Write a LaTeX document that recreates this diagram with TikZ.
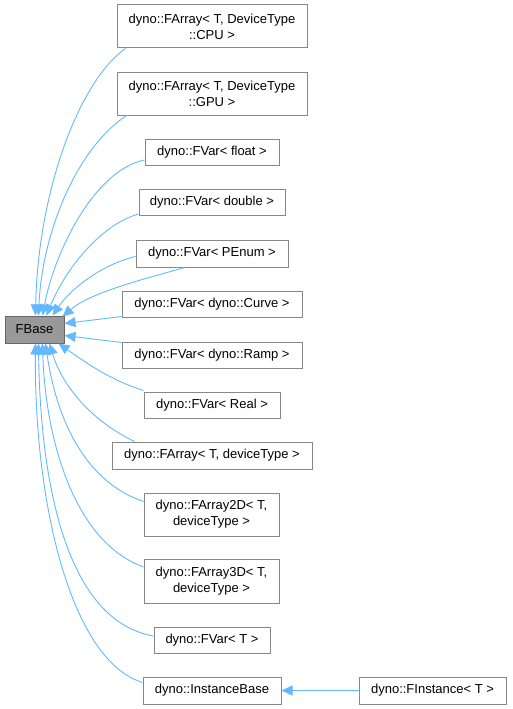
\documentclass[tikz,border=0pt]{standalone}
\usepackage{fontspec}
\setmainfont{Liberation Sans}
\usepackage{xcolor}
\usetikzlibrary{arrows.meta}
\definecolor{EdgeBlue}{HTML}{63B8FF}
\definecolor{BoxLine}{HTML}{888888}
\definecolor{BaseFill}{HTML}{999999}
\definecolor{BaseLine}{HTML}{666666}

\begin{document}
\begin{tikzpicture}[x=1pt, y=-1pt,
  cls/.style={draw=BoxLine, line width=1pt, fill=white, inner sep=0pt,
    align=center, font=\fontsize{13}{16}\selectfont},
  base/.style={cls, draw=BaseLine, fill=BaseFill},
  inherit/.style={EdgeBlue, line width=0.9pt,
    -{Triangle[length=11pt, width=10pt]}}]
  \useasboundingbox (0,0) rectangle (512,709);
  % each class: \node[cls, minimum width=w, minimum height=h] (name) at (x,y) {...};
  \node[base, minimum width=59pt, minimum height=27pt] (fbase) at (34.5,329.5) {FBase};
  \node[cls, minimum width=190pt, minimum height=43pt] (cpu) at (212,26.5) {dyno::FArray< T, DeviceType\\::CPU >};
  \node[cls, minimum width=190pt, minimum height=43pt] (gpu) at (212,93.5) {dyno::FArray< T, DeviceType\\::GPU >};
  \node[cls, minimum width=134pt, minimum height=26pt] (vfloat) at (212,152) {dyno::FVar< float >};
  \node[cls, minimum width=146pt, minimum height=26pt] (vdouble) at (212,202) {dyno::FVar< double >};
  \node[cls, minimum width=152pt, minimum height=27pt] (venum) at (212,253.5) {dyno::FVar< PEnum >};
  \node[cls, minimum width=180pt, minimum height=26pt] (vcurve) at (212,304) {dyno::FVar< dyno::Curve >};
  \node[cls, minimum width=180pt, minimum height=26pt] (vramp) at (212,355) {dyno::FVar< dyno::Ramp >};
  \node[cls, minimum width=136pt, minimum height=26pt] (vreal) at (212,405) {dyno::FVar< Real >};
  \node[cls, minimum width=200pt, minimum height=27pt] (farray) at (212,455.5) {dyno::FArray< T, deviceType >};
  \node[cls, minimum width=135pt, minimum height=43pt] (farray2d) at (211.5,514.5) {dyno::FArray2D< T,\\deviceType >};
  \node[cls, minimum width=135pt, minimum height=44pt] (farray3d) at (211.5,581) {dyno::FArray3D< T,\\deviceType >};
  \node[cls, minimum width=116pt, minimum height=26pt] (vt) at (212,640) {dyno::FVar< T >};
  \node[cls, minimum width=138pt, minimum height=27pt] (inst) at (212,690.5) {dyno::InstanceBase};
  \node[cls, minimum width=147pt, minimum height=27pt] (finst) at (432.5,690.5) {dyno::FInstance< T >};

  % edges into FBase, top side
  \draw[inherit] ([xshift=9pt]cpu.south west) .. controls (80,80) and (38,190) .. ([xshift=31pt]fbase.north west);
  \draw[inherit] ([xshift=10pt]gpu.south west) .. controls (75,150) and (42,235) .. ([xshift=34pt]fbase.north west);
  \draw[inherit] ([yshift=-8pt]vfloat.west) .. controls (95,170) and (55,250) .. ([xshift=38pt]fbase.north west);
  \draw[inherit] ([yshift=-12pt]vdouble.west) .. controls (100,225) and (65,270) .. ([xshift=42pt]fbase.north west);
  \draw[inherit] ([yshift=-3pt]venum.west) .. controls (100,265) and (70,290) .. ([xshift=48pt]fbase.north west);
  \draw[inherit] ([xshift=-27pt]venum.south) .. controls (140,280) and (90,293) .. ([xshift=58pt,yshift=-1pt]fbase.north west);
  \draw[inherit] ([yshift=1pt]vcurve.south west) -- ([yshift=6pt]fbase.east);
  \draw[inherit] ([yshift=-1pt]vramp.north west) -- ([yshift=-6pt]fbase.east);
  % edges into FBase, bottom side
  \draw[inherit] ([yshift=1pt]vreal.north west) .. controls (110,380) and (85,362) .. ([xshift=54pt]fbase.south west);
  \draw[inherit] ([xshift=23pt]farray.north west) .. controls (90,420) and (62,385) .. ([xshift=45pt]fbase.south west);
  \draw[inherit] ([yshift=13pt]farray2d.west) .. controls (80,480) and (55,410) .. ([xshift=41pt]fbase.south west);
  \draw[inherit] ([yshift=14pt]farray3d.west) .. controls (70,540) and (45,430) .. ([xshift=38pt]fbase.south west);
  \draw[inherit] ([yshift=4pt]vt.west) .. controls (62,620) and (40,470) .. ([xshift=34pt]fbase.south west);
  \draw[inherit] ([yshift=8pt]inst.west) .. controls (70,660) and (34,500) .. ([xshift=31pt]fbase.south west);
  % the one edge between the two lower classes
  \draw[inherit] (finst.west) -- (inst.east);
\end{tikzpicture}
\end{document}
